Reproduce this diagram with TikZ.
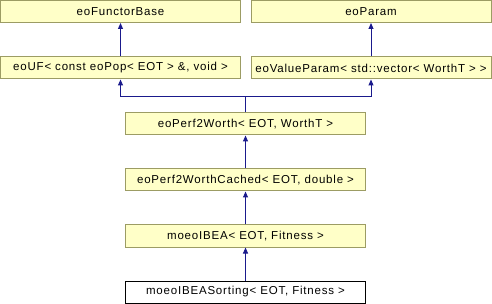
\documentclass[tikz,border=0pt]{standalone}
\usepackage{fontspec}
\setmainfont{Liberation Sans}[LetterSpace=7]
\usetikzlibrary{arrows.meta}
\definecolor{boxfill}{HTML}{FFFFC8}
\definecolor{boxline}{HTML}{9C9C64}
\definecolor{edgecol}{HTML}{1A1A8C}
\begin{document}
\begin{tikzpicture}[x=1pt,y=-1pt,
  cls/.style={draw=boxline,fill=boxfill,line width=1pt,minimum width=240pt,minimum height=22pt,inner sep=0pt,font=\fontsize{11.5}{12}\selectfont},
  cur/.style={cls,draw=black,fill=white},
  inh/.style={draw=edgecol,line width=1pt,-{Triangle[length=6pt,width=5pt]}}]
\useasboundingbox (0,0) rectangle (492,304);
\node[cls] (fb) at (120.5,11.5) {eoFunctorBase};
\node[cls] (par) at (371,11.5) {eoParam};
\node[cls] (uf) at (120.5,68) {eoUF< const eoPop< EOT > \&, void >};
\node[cls] (vp) at (371,68) {eoValueParam< std::vector< WorthT > >};
\node[cls] (pw) at (245.5,124) {eoPerf2Worth< EOT, WorthT >};
\node[cls] (pwc) at (245.5,180) {eoPerf2WorthCached< EOT, double >};
\node[cls] (ibea) at (245.5,236) {moeoIBEA< EOT, Fitness >};
\node[cur] (srt) at (245.5,292) {moeoIBEASorting< EOT, Fitness >};
\coordinate (j) at (245.5,96.5);
\draw[inh] (uf.north) -- (fb.south);
\draw[inh] (vp.north) -- (par.south);
\draw[inh] (pw.north) -- (j) -| (uf.south);
\draw[inh] (j) -| (vp.south);
\draw[inh] (pwc.north) -- (pw.south);
\draw[inh] (ibea.north) -- (pwc.south);
\draw[inh] (srt.north) -- (ibea.south);
\end{tikzpicture}
\end{document}
